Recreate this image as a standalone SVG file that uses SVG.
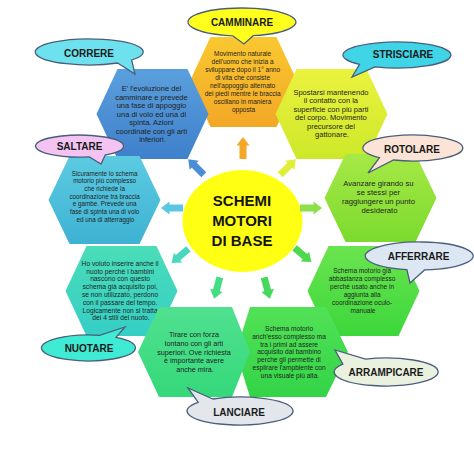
<svg xmlns="http://www.w3.org/2000/svg" width="474" height="474" viewBox="0 0 474 474">
<defs>
<linearGradient id="gCam" x1="0" y1="0" x2="0" y2="1"><stop offset="0" stop-color="#F9C830"/><stop offset="1" stop-color="#F3A726"/></linearGradient>
<linearGradient id="gCor" x1="0" y1="0" x2="0" y2="1"><stop offset="0" stop-color="#5A9FDD"/><stop offset="1" stop-color="#3F80CB"/></linearGradient>
<linearGradient id="gStr" x1="0" y1="0" x2="0" y2="1"><stop offset="0" stop-color="#EBF23E"/><stop offset="1" stop-color="#CDE829"/></linearGradient>
<linearGradient id="gRot" x1="0" y1="0" x2="0" y2="1"><stop offset="0" stop-color="#A6E946"/><stop offset="1" stop-color="#7CDA2E"/></linearGradient>
<linearGradient id="gSal" x1="0" y1="0" x2="0" y2="1"><stop offset="0" stop-color="#5CCBE2"/><stop offset="1" stop-color="#3EB2D3"/></linearGradient>
<linearGradient id="gAff" x1="0" y1="0" x2="0" y2="1"><stop offset="0" stop-color="#6BE44E"/><stop offset="1" stop-color="#3CD73C"/></linearGradient>
<linearGradient id="gNuo" x1="0" y1="0" x2="0" y2="1"><stop offset="0" stop-color="#4ADDB8"/><stop offset="1" stop-color="#35CEC6"/></linearGradient>
<linearGradient id="gLan" x1="0" y1="0" x2="0" y2="1"><stop offset="0" stop-color="#50E190"/><stop offset="1" stop-color="#35D87A"/></linearGradient>
<linearGradient id="gArr" x1="0" y1="0" x2="0" y2="1"><stop offset="0" stop-color="#52E156"/><stop offset="1" stop-color="#33D448"/></linearGradient>
<path id="arr" d="M0,-11 L6.5,-2.5 L3.5,-2.5 L3.5,11 L-3.5,11 L-3.5,-2.5 L-6.5,-2.5 Z"/>
</defs>
<style>
.hx{stroke:none}
.bb{stroke:#4A5E7C;stroke-width:1.3}
.lb{font-family:"Liberation Sans",Arial,sans-serif;font-weight:bold;font-size:10px;fill:#1a1a1a;text-anchor:middle}
.tx{font-family:"Liberation Sans",Arial,sans-serif;fill:#1f1f1f;text-anchor:middle}
.ct{font-family:"Liberation Sans",Arial,sans-serif;font-weight:bold;font-size:15px;fill:#141414;text-anchor:middle}
</style>
<rect width="474" height="474" fill="#ffffff"/>

<g id="camminare">
<polygon class="hx" fill="url(#gCam)" points="189.5,82 210.5,37 276.5,37 297.5,82 276.5,127 210.5,127"/>
<text class="tx" font-size="6.5">
<tspan x="243.5" y="55.5">Movimento naturale</tspan>
<tspan x="243.5" y="63.5">dell'uomo che inizia a</tspan>
<tspan x="243.5" y="71.5">sviluppare dopo il 1° anno</tspan>
<tspan x="243.5" y="79.5">di vita che consiste</tspan>
<tspan x="243.5" y="87.5">nell'appoggio alternato</tspan>
<tspan x="243.5" y="95.5">dei piedi mentre le braccia</tspan>
<tspan x="243.5" y="103.5">oscillano in maniera</tspan>
<tspan x="243.5" y="111.5">opposta</tspan>
</text>
</g>

<g id="striciare">
<polygon class="hx" fill="url(#gStr)" points="275.5,114 296.5,69 366.5,69 387.5,114 366.5,159 296.5,159"/>
<text class="tx" font-size="7.5">
<tspan x="332" y="94.5">Spostarsi mantenendo</tspan>
<tspan x="332" y="103">il contatto con la</tspan>
<tspan x="332" y="111.5">superficie con più parti</tspan>
<tspan x="332" y="120">del corpo. Movimento</tspan>
<tspan x="332" y="128.5">precursore del</tspan>
<tspan x="332" y="137">gattonare.</tspan>
</text>
</g>

<g id="correre">
<polygon class="hx" fill="url(#gCor)" points="96.5,114 117.5,69 187.5,69 208.5,114 187.5,159 117.5,159"/>
<text class="tx" font-size="7.5">
<tspan x="152.5" y="91">E' l'evoluzione del</tspan>
<tspan x="152.5" y="99.5">camminare e prevede</tspan>
<tspan x="152.5" y="108">una fase di appoggio</tspan>
<tspan x="152.5" y="116.5">una di  volo ed una di</tspan>
<tspan x="152.5" y="125">spinta. Azioni</tspan>
<tspan x="152.5" y="133.5">coordinate con gli arti</tspan>
<tspan x="152.5" y="142">inferiori.</tspan>
</text>
</g>

<g id="saltare">
<polygon class="hx" fill="url(#gSal)" points="48.5,200 69.5,156 139.5,156 160.5,200 139.5,244 69.5,244"/>
<text class="tx" font-size="6.3">
<tspan x="105.5" y="175.5">Sicuramente lo schema</tspan>
<tspan x="105.5" y="183.2">motorio più complesso</tspan>
<tspan x="105.5" y="190.8">che richiede la</tspan>
<tspan x="105.5" y="198.5">coordinazione tra braccia</tspan>
<tspan x="105.5" y="206.2">e gambe. Prevede una</tspan>
<tspan x="105.5" y="213.8">fase di spinta una di volo</tspan>
<tspan x="105.5" y="221.5">ed una di atterraggio</tspan>
</text>
</g>

<g id="rotolare">
<polygon class="hx" fill="url(#gRot)" points="324.5,198 345.5,154 415.5,154 436.5,198 415.5,242 345.5,242"/>
<text class="tx" font-size="7.7">
<tspan x="379.5" y="186">Avanzare girando su</tspan>
<tspan x="379.5" y="195">se stessi per</tspan>
<tspan x="379.5" y="204">raggiungere un punto</tspan>
<tspan x="379.5" y="213">desiderato</tspan>
</text>
</g>

<g id="nuotare">
<polygon class="hx" fill="url(#gNuo)" points="65.5,291 86.5,246 156.5,246 177.5,291 156.5,336 86.5,336"/>
<text class="tx" font-size="6.7">
<tspan x="121" y="265.7">Ho voluto inserire anche il</tspan>
<tspan x="121" y="273.5">nuoto perchè i bambini</tspan>
<tspan x="121" y="281.3">nascono con questo</tspan>
<tspan x="121" y="289.1">schema già acquisito poi,</tspan>
<tspan x="121" y="296.9">se non utilizzato, perdono</tspan>
<tspan x="121" y="304.7">con il passare del tempo.</tspan>
<tspan x="121" y="312.5">Logicamente non si tratta</tspan>
<tspan x="121" y="320.3">dei 4 stili del nuoto.</tspan>
</text>
</g>

<g id="afferrare">
<polygon class="hx" fill="url(#gAff)" points="307.5,291 328.5,246 398.5,246 419.5,291 398.5,336 328.5,336"/>
<text class="tx" font-size="6.5">
<tspan x="363" y="273">Schema motorio già</tspan>
<tspan x="363" y="280.9">abbastanza complesso</tspan>
<tspan x="363" y="288.8">perchè usato anche in</tspan>
<tspan x="363" y="296.7">aggiunta alla</tspan>
<tspan x="363" y="304.6">coordinazione oculo-</tspan>
<tspan x="363" y="312.5">manuale</tspan>
</text>
</g>

<g id="arrampicare">
<polygon class="hx" fill="url(#gArr)" points="236,352 250,307 326,307 348,352 326,397 250,397"/>
<text class="tx" font-size="6.6">
<tspan x="290" y="330.7">Schema motorio</tspan>
<tspan x="290" y="338.6">anch'esso complesso ma</tspan>
<tspan x="290" y="346.5">tra i primi ad assere</tspan>
<tspan x="290" y="354.4">acquisito dal bambino</tspan>
<tspan x="290" y="362.3">perche gli permette di</tspan>
<tspan x="290" y="370.2">esplirare l'ampbiente con</tspan>
<tspan x="290" y="378.1">una visuale più alta.</tspan>
</text>
</g>

<g id="lanciare">
<polygon class="hx" fill="url(#gLan)" points="138,352 159,307 232,307 250,352 232,397 159,397"/>
<text class="tx" font-size="7.2">
<tspan x="195" y="337.3">Tirare con forza</tspan>
<tspan x="195" y="345.9">lontano con gli arti</tspan>
<tspan x="195" y="354.5">superiori. Ove richiesta</tspan>
<tspan x="195" y="363.1">è importante avere</tspan>
<tspan x="195" y="371.7">anche mira.</tspan>
</text>
</g>

<g id="centro">
<ellipse cx="242.5" cy="221" rx="60" ry="51" fill="#FFFF14"/>
<text class="ct"><tspan x="242" y="206">SCHEMI</tspan><tspan x="242" y="226">MOTORI</tspan><tspan x="242" y="246">DI BASE</tspan></text>
</g>

<g id="connectors">
<use href="#arr" fill="#F5A827" transform="translate(243,148) rotate(0)"/>
<use href="#arr" fill="#E0EE3A" transform="translate(288,167) rotate(45)"/>
<use href="#arr" fill="#8DE04A" transform="translate(311,208) rotate(90)"/>
<use href="#arr" fill="#4DD84E" transform="translate(303,255) rotate(130)"/>
<use href="#arr" fill="#45D85C" transform="translate(267,288) rotate(165)"/>
<use href="#arr" fill="#44DC84" transform="translate(217,288) rotate(195)"/>
<use href="#arr" fill="#48D8C0" transform="translate(180,256) rotate(230)"/>
<use href="#arr" fill="#5CC7E2" transform="translate(172,208) rotate(270)"/>
<use href="#arr" fill="#4C8ED6" transform="translate(196,167) rotate(315)"/>
</g>

<g id="bubble-camminare">
<path class="bb" fill="#FFFF1E" d="M232.6,35.8 L244,44 L253.2,35.7 A54,14 0 1 0 232.6,35.8 Z"/>
<text class="lb" x="242" y="25.5">CAMMINARE</text>
</g>
<g id="bubble-correre">
<path class="bb" fill="#6DE2EE" d="M117.6,63 L135,74 L131.6,60 A54,13 0 1 0 117.6,63 Z"/>
<text class="lb" x="89" y="56.5">CORRERE</text>
</g>
<g id="bubble-strisciare">
<path class="bb" fill="#3FD4E6" d="M359.5,64.4 L352,77 L375,66.9 A54,13 0 1 0 359.5,64.4 Z"/>
<text class="lb" x="403" y="58">STRISCIARE</text>
</g>
<g id="bubble-rotolare">
<path class="bb" fill="#FBE3D6" d="M379.5,157.7 L368,173 L393.5,160 A50,13 0 1 0 379.5,157.7 Z"/>
<text class="lb" x="412" y="152.5">ROTOLARE</text>
</g>
<g id="bubble-saltare">
<path class="bb" fill="#F3C3F1" d="M89.1,156.8 L101,164 L105.2,155 A44,11 0 1 0 89.1,156.8 Z"/>
<text class="lb" x="79.5" y="150">SALTARE</text>
</g>
<g id="bubble-afferrare">
<path class="bb" fill="#DCE7F3" d="M406.9,269.6 L410,283 L424.6,269.9 A54,14 0 1 0 406.9,269.6 Z"/>
<text class="lb" x="418.5" y="260">AFFERRARE</text>
</g>
<g id="bubble-nuotare">
<path class="bb" fill="#40EBD3" d="M116,337.4 L125,327 L99.6,335.3 A47,13 0 1 0 116,337.4 Z"/>
<text class="lb" x="89" y="351.5">NUOTARE</text>
</g>
<g id="bubble-lanciare">
<path class="bb" fill="#E3E7EC" d="M212.7,399 L188,388 L198.2,402.4 A53,14 0 1 0 212.7,399 Z"/>
<text class="lb" x="239" y="415.5">LANCIARE</text>
</g>
<g id="bubble-arrampicare">
<path class="bb" fill="#EAF1DF" d="M365.7,359.1 L335,350 L342.9,364.2 A52,14 0 1 0 365.7,359.1 Z"/>
<text class="lb" x="386" y="376">ARRAMPICARE</text>
</g>
</svg>
